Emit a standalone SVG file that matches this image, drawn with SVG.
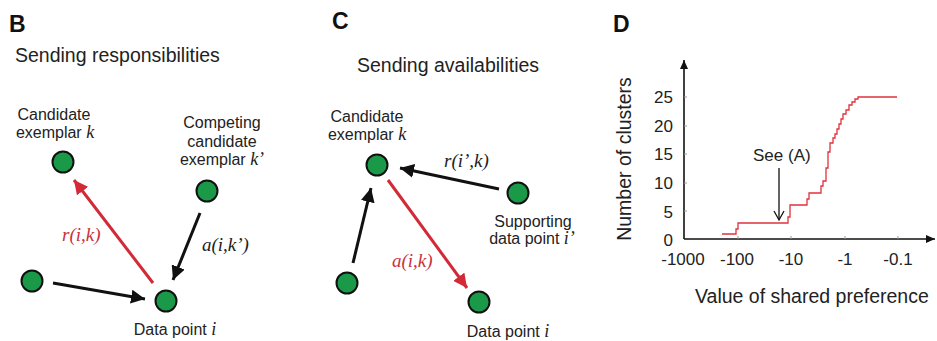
<svg xmlns="http://www.w3.org/2000/svg" width="937" height="341" viewBox="0 0 937 341">
<defs>
<style>
.panel{font-family:"Liberation Sans",Arial,sans-serif;font-weight:bold;font-size:23px;fill:#111}
.title{font-family:"Liberation Sans",Arial,sans-serif;font-size:19.5px;fill:#222}
.lbl{font-family:"Liberation Sans",Arial,sans-serif;font-size:16px;fill:#222}
.math{font-family:"Liberation Serif","Times New Roman",serif;font-style:italic;font-size:19px;fill:#222}
.mathr{font-family:"Liberation Serif","Times New Roman",serif;font-style:italic;font-size:19px;fill:#c8323e}
.it{font-family:"Liberation Serif","Times New Roman",serif;font-style:italic;font-size:18px}
.node{fill:#1a9a48;stroke:#111;stroke-width:2}
.blk{stroke:#111;stroke-width:3;fill:none}
.red{stroke:#d22a36;stroke-width:3;fill:none}
.tick{font-family:"Liberation Sans",Arial,sans-serif;font-size:17px;fill:#222}
.axis{stroke:#111;stroke-width:1.6;fill:none}
.minor{stroke:#999;stroke-width:1}
</style>
<marker id="ab" markerUnits="userSpaceOnUse" markerWidth="16" markerHeight="14" refX="14" refY="7" orient="auto">
<path d="M0,0 L14,7 L0,14 z" fill="#111"/>
</marker>
<marker id="ar" markerUnits="userSpaceOnUse" markerWidth="16" markerHeight="14" refX="14" refY="7" orient="auto">
<path d="M0,0 L14,7 L0,14 z" fill="#d22a36"/>
</marker>
<marker id="ax" markerUnits="userSpaceOnUse" markerWidth="10" markerHeight="10" refX="9" refY="4" orient="auto">
<path d="M0,0 L9,4 L0,8 z" fill="#111"/>
</marker>
</defs>

<!-- Panel B -->
<text class="panel" x="9" y="32">B</text>
<text class="title" x="15" y="62">Sending responsibilities</text>
<g id="connectors-B">
<line class="red" x1="153" y1="283" x2="74" y2="180" marker-end="url(#ar)"/>
<line class="blk" x1="200" y1="213" x2="173" y2="280" marker-end="url(#ab)"/>
<line class="blk" x1="53" y1="283" x2="145" y2="299" marker-end="url(#ab)"/>
<text class="mathr" x="62" y="241">r(i,k)</text>
<text class="math" x="202" y="251">a(i,k’)</text>
</g>
<g id="B-candidate">
<circle class="node" cx="63" cy="162" r="10.5"/>
<text class="lbl" x="54" y="120" text-anchor="middle">Candidate</text>
<text class="lbl" x="55" y="138" text-anchor="middle">exemplar <tspan class="it">k</tspan></text>
</g>
<g id="B-competing">
<circle class="node" cx="207" cy="191" r="10.5"/>
<text class="lbl" x="222" y="128" text-anchor="middle">Competing</text>
<text class="lbl" x="222" y="147" text-anchor="middle">candidate</text>
<text class="lbl" x="222" y="165" text-anchor="middle">exemplar <tspan class="it">k’</tspan></text>
</g>
<g id="B-other">
<circle class="node" cx="32" cy="281" r="10.5"/>
</g>
<g id="B-datapoint">
<circle class="node" cx="166" cy="301" r="10.5"/>
<text class="lbl" x="175" y="335" text-anchor="middle">Data point <tspan class="it">i</tspan></text>
</g>

<!-- Panel C -->
<text class="panel" x="332" y="29">C</text>
<text class="title" x="357" y="72">Sending availabilities</text>
<g id="connectors-C">
<line class="blk" x1="499" y1="189" x2="400" y2="168" marker-end="url(#ab)"/>
<line class="blk" x1="353" y1="263" x2="371" y2="188" marker-end="url(#ab)"/>
<line class="red" x1="388" y1="180" x2="467" y2="288" marker-end="url(#ar)"/>
<text class="math" x="444" y="167">r(i’,k)</text>
<text class="mathr" x="392" y="267">a(i,k)</text>
</g>
<g id="C-candidate">
<circle class="node" cx="377" cy="165" r="10.5"/>
<text class="lbl" x="367" y="122" text-anchor="middle">Candidate</text>
<text class="lbl" x="367" y="140" text-anchor="middle">exemplar <tspan class="it">k</tspan></text>
</g>
<g id="C-supporting">
<circle class="node" cx="518" cy="193" r="10.5"/>
<text class="lbl" x="533" y="227" text-anchor="middle">Supporting</text>
<text class="lbl" x="532" y="244" text-anchor="middle">data point <tspan class="it">i’</tspan></text>
</g>
<g id="C-other">
<circle class="node" cx="347" cy="283" r="10.5"/>
</g>
<g id="C-datapoint">
<circle class="node" cx="479" cy="302" r="10.5"/>
<text class="lbl" x="508" y="337" text-anchor="middle">Data point <tspan class="it">i</tspan></text>
</g>

<!-- Panel D -->
<text class="panel" x="613" y="32">D</text>
<g id="chart">
<line class="axis" x1="684" y1="239" x2="684" y2="60" marker-end="url(#ax)"/>
<line class="axis" x1="684" y1="239" x2="935" y2="239" marker-end="url(#ax)"/>
<g class="minor">
<line x1="738" y1="239" x2="738" y2="236"/>
<line x1="791" y1="239" x2="791" y2="236"/>
<line x1="845" y1="239" x2="845" y2="236"/>
<line x1="898" y1="239" x2="898" y2="236"/>
<line x1="684" y1="97" x2="687" y2="97"/>
<line x1="684" y1="126" x2="687" y2="126"/>
<line x1="684" y1="154" x2="687" y2="154"/>
<line x1="684" y1="183" x2="687" y2="183"/>
<line x1="684" y1="211" x2="687" y2="211"/>
</g>
<g class="tick" text-anchor="end">
<text x="673" y="103">25</text>
<text x="673" y="132">20</text>
<text x="673" y="160">15</text>
<text x="673" y="189">10</text>
<text x="673" y="218">5</text>
<text x="673" y="246">0</text>
</g>
<g class="tick" text-anchor="middle">
<text x="683" y="265">-1000</text>
<text x="737" y="265">-100</text>
<text x="791" y="265">-10</text>
<text x="845" y="265">-1</text>
<text x="898" y="265">-0.1</text>
</g>
<text class="title" x="695" y="303">Value of shared preference</text>
<text class="title" transform="translate(631,159) rotate(-90)" text-anchor="middle">Number of clusters</text>
<path d="M722,234 H736 V229 H738 V223 H788 V217 H790 V205 H807 V199 H809 V193 H821 V186 H823 V181 H826 V168 H828 V152 H830 V143 H833 V138 H835 V134 H837 V129 H839 V124 H841 V119 H843 V114 H846 V110 H849 V105 H852 V102 H855 V99 H858 V97 H897" fill="none" stroke="#e0323c" stroke-width="1.3"/>
<text class="tick" x="753" y="161">See (A)</text>
<line x1="779" y1="168" x2="779" y2="220" stroke="#111" stroke-width="1.3"/>
<path d="M774,211 L779,220 L784,211" fill="none" stroke="#111" stroke-width="1.3"/>
</g>
</svg>
